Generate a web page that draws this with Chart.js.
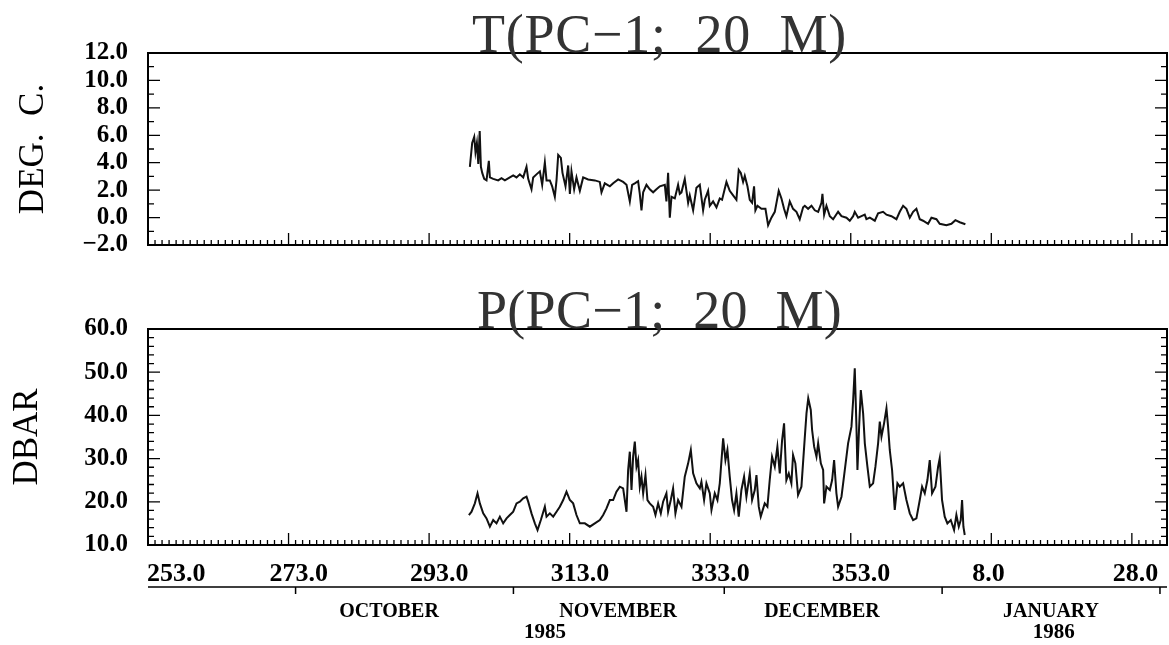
<!DOCTYPE html>
<html>
<head>
<meta charset="utf-8">
<script src="https://cdn.jsdelivr.net/npm/chart.js@4.4.1/dist/chart.umd.min.js"></script>
<style>
  html, body { margin: 0; padding: 0; background: #fff; }
  #wrap { position: relative; width: 1169px; height: 645px; }
  #tempChart { position: absolute; left: 0; top: 0; }
  #presChart { position: absolute; left: 0; top: 280px; }
</style>
</head>
<body>
<div id="wrap">
  <canvas id="tempChart" width="1169" height="280"></canvas>
  <canvas id="presChart" width="1169" height="365"></canvas>
</div>
<script>
// Day of year (1985), temperature at 20 m
const tDays = [
  298.8, 299.13, 299.42, 299.6, 299.8, 300.0, 300.2, 300.37, 300.56, 300.84,
  301.17, 301.5, 301.65, 302.12, 302.83, 303.3, 303.78, 304.49, 304.97, 305.44,
  305.91, 306.39, 306.86, 307.1, 307.57, 307.81, 308.28, 308.76, 309.09, 309.47,
  309.71, 310.18, 310.51, 310.89, 311.13, 311.37, 311.75, 311.98, 312.22, 312.41,
  312.79, 313.03, 313.26, 313.64, 313.97, 314.45, 314.92, 315.63, 316.58, 317.29,
  317.53, 318.0, 318.72, 319.19, 319.9, 320.61, 321.09, 321.56, 321.89, 322.27,
  322.74, 322.98, 323.22, 323.46, 323.93, 324.4, 324.88, 325.35, 325.83, 326.54,
  326.77, 327.01, 327.25, 327.49, 327.96, 328.43, 328.67, 328.91, 329.38, 329.62,
  329.86, 330.09, 330.57, 331.04, 331.52, 331.99, 332.23, 332.7, 332.94, 333.41,
  333.89, 334.36, 334.69, 335.31, 335.78, 336.26, 336.73, 337.06, 337.35, 337.68,
  337.92, 338.3, 338.63, 338.96, 339.24, 339.43, 339.72, 340.29, 340.86, 341.24,
  341.71, 342.19, 342.75, 343.13, 343.51, 343.84, 344.32, 344.79, 345.27, 345.74,
  346.22, 346.46, 346.93, 347.41, 347.88, 348.36, 348.83, 348.97, 349.21, 349.54,
  350.02, 350.49, 351.2, 351.68, 352.39, 352.86, 353.34, 353.57, 354.05, 354.52,
  354.99, 355.23, 355.71, 356.42, 356.89, 357.6, 358.08, 358.79, 359.5, 359.97,
  360.45, 360.92, 361.4, 361.87, 362.34, 362.82, 363.29, 364.0, 364.48, 365.19,
  365.66, 366.61, 367.32, 367.89, 368.51, 369.31
];
const tVals = [
  3.7, 5.44, 5.88, 4.78, 5.44, 3.91, 6.31, 3.7, 3.26, 2.82,
  2.71, 4.13, 2.93, 2.82, 2.71, 2.87, 2.71, 2.93, 3.08, 2.93,
  3.15, 2.93, 3.7, 2.82, 2.06, 2.93, 3.15, 3.37, 2.39, 4.02,
  2.71, 2.71, 2.28, 1.51, 2.71, 4.57, 4.35, 3.26, 2.71, 2.28,
  3.8, 1.73, 3.37, 2.06, 2.93, 1.95, 2.93, 2.78, 2.71, 2.6,
  1.84, 2.5, 2.28, 2.5, 2.78, 2.6, 2.39, 1.18, 2.39, 2.5,
  2.65, 1.73, 0.53, 1.84, 2.39, 2.06, 1.84, 2.06, 2.28, 2.39,
  1.18, 3.26, -0.01, 1.51, 1.4, 2.39, 1.73, 1.84, 2.82, 1.95,
  1.08, 1.62, 0.53, 2.17, 2.39, 0.53, 1.3, 1.95, 0.86, 1.18,
  0.75, 1.4, 1.3, 2.6, 1.95, 1.62, 1.3, 3.48, 3.26, 2.6,
  3.04, 2.28, 1.3, 1.08, 2.28, 0.53, 0.86, 0.64, 0.64, -0.56,
  -0.01, 0.42, 1.95, 1.4, 0.64, 0.1, 1.18, 0.64, 0.42, -0.12,
  0.75, 0.86, 0.64, 0.86, 0.53, 0.42, 1.08, 1.73, 0.21, 0.86,
  0.1, -0.12, 0.42, 0.1, -0.01, -0.23, 0.1, 0.42, -0.01, 0.1,
  0.21, -0.12, -0.01, -0.23, 0.31, 0.42, 0.21, 0.1, -0.12, 0.42,
  0.86, 0.64, -0.01, 0.42, 0.64, -0.12, -0.23, -0.45, -0.01, -0.12,
  -0.45, -0.56, -0.45, -0.19, -0.34, -0.49
];

// Day of year (1985), pressure at 20 m
const pDays = [
  298.66, 299.04, 299.51, 299.89, 300.22, 300.7, 301.17, 301.65, 302.12, 302.59,
  303.07, 303.54, 304.02, 304.49, 304.97, 305.44, 305.91, 306.39, 306.86, 307.1,
  307.57, 308.05, 308.43, 308.9, 309.47, 309.71, 310.18, 310.66, 311.13, 311.6,
  312.08, 312.55, 313.03, 313.5, 313.97, 314.45, 315.16, 315.87, 316.58, 317.29,
  317.77, 318.24, 318.72, 319.19, 319.66, 320.14, 320.61, 321.09, 321.32, 321.56,
  321.8, 322.03, 322.27, 322.51, 322.74, 322.98, 323.22, 323.46, 323.79, 324.07,
  324.4, 324.88, 325.21, 325.59, 325.97, 326.3, 326.77, 327.01, 327.39, 327.72,
  328.05, 328.43, 328.91, 329.38, 329.86, 330.24, 330.57, 331.04, 331.52, 331.75,
  332.13, 332.46, 332.94, 333.18, 333.65, 334.03, 334.36, 334.84, 335.17, 335.45,
  335.78, 336.11, 336.4, 336.73, 337.06, 337.44, 337.82, 338.15, 338.63, 338.96,
  339.34, 339.58, 339.91, 340.19, 340.76, 341.14, 341.47, 341.8, 342.19, 342.56,
  342.9, 343.23, 343.51, 343.84, 344.18, 344.55, 344.79, 345.12, 345.5, 345.98,
  346.45, 346.7, 346.95, 347.31, 347.5, 347.79, 348.12, 348.36, 348.74, 349.07,
  349.21, 349.54, 350.02, 350.35, 350.63, 350.96, 351.2, 351.68, 352.15, 352.62,
  353.1, 353.34, 353.57, 353.81, 353.95, 354.19, 354.43, 354.76, 355.0, 355.37,
  355.71, 356.18, 356.51, 356.89, 357.13, 357.37, 357.74, 358.08, 358.31, 358.55,
  358.88, 359.26, 359.64, 359.97, 360.45, 360.92, 361.4, 361.87, 362.34, 362.82,
  363.15, 363.53, 363.91, 364.24, 364.57, 365.05, 365.43, 365.66, 365.99, 366.37,
  366.75, 367.23, 367.7, 368.03, 368.37, 368.65, 368.84, 369.03, 369.22
];
const pVals = [
  16.94, 17.7, 19.64, 21.96, 19.64, 17.33, 16.17, 14.24, 15.78, 15.01,
  16.56, 15.01, 16.17, 16.94, 17.7, 19.64, 20.03, 20.8, 21.18, 20.03,
  17.33, 15.01, 13.47, 15.78, 18.87, 16.56, 17.33, 16.56, 17.7, 18.87,
  20.41, 22.34, 20.41, 19.64, 16.94, 15.01, 15.01, 14.24, 15.01, 15.78,
  16.94, 18.48, 20.41, 20.41, 22.34, 23.5, 23.11, 17.7, 27.36, 31.6,
  22.73, 30.45, 33.92, 28.13, 29.67, 23.5, 25.81, 21.96, 26.2, 20.41,
  19.64, 18.87, 16.94, 19.64, 17.33, 20.03, 21.96, 17.7, 20.41, 23.11,
  17.33, 20.41, 18.87, 25.81, 28.9, 32.0, 26.59, 24.27, 23.11, 24.66,
  20.41, 24.27, 21.96, 18.1, 21.96, 20.41, 24.27, 34.69, 29.67, 32.0,
  25.81, 20.41, 18.1, 21.96, 16.56, 22.73, 25.81, 21.18, 26.59, 20.41,
  22.73, 26.2, 18.87, 16.56, 19.64, 18.87, 25.04, 30.45, 28.13, 32.76,
  26.59, 34.3, 38.16, 25.04, 26.59, 24.27, 30.83, 28.9, 21.57, 23.5,
  34.69, 40.48, 43.95, 41.25, 36.62, 32.76, 30.45, 33.53, 28.9, 27.36,
  19.64, 23.5, 22.73, 25.04, 29.67, 21.96, 18.87, 21.18, 27.36, 33.53,
  37.39, 43.56, 50.89, 37.39, 27.36, 37.39, 45.88, 40.48, 33.53, 28.13,
  23.5, 24.27, 28.13, 33.53, 38.55, 35.07, 38.16, 41.63, 37.39, 32.0,
  27.36, 18.1, 24.27, 23.5, 24.27, 20.41, 17.33, 15.78, 16.17, 20.41,
  23.5, 21.96, 25.04, 29.67, 21.96, 23.5, 28.13, 30.06, 20.41, 16.56,
  15.01, 15.78, 13.47, 16.94, 14.24, 15.78, 20.41, 14.24, 12.31
];

// Bottom axis: labelled days, their text, and the calendar strip
const xTickDays = [253, 273, 293, 313, 333, 353, 373, 393];
const xTickLabels = ['253.0', '273.0', '293.0', '313.0', '333.0', '353.0', '8.0', '28.0'];
const monthStarts = [274, 305, 335, 366, 397];
const monthNames = ['OCTOBER', 'NOVEMBER', 'DECEMBER', 'JANUARY'];
const monthLabelDays = [287.3, 319.9, 348.9, 381.5];
const yearNames = ['1985', '1986'];
const yearLabelDays = [309.5, 381.9];

const SERIF = '"Liberation Serif", "Times New Roman", serif';

// frame, inward ticks, titles and the calendar axis
const framePlugin = {
  id: 'frame',
  afterDraw(chart, args, opts) {
    const { ctx, chartArea: a, scales: { x, y } } = chart;
    ctx.save();
    ctx.strokeStyle = '#000';
    ctx.fillStyle = '#000';

    ctx.lineWidth = 2;
    ctx.strokeRect(a.left, a.top, a.right - a.left, a.bottom - a.top);

    ctx.lineWidth = 1.3;
    ctx.beginPath();
    for (let d = 253; d <= 398; d++) {
      const px = x.getPixelForValue(d);
      const len = (d - 253) % 20 === 0 ? 12 : 5;
      ctx.moveTo(px, a.bottom);
      ctx.lineTo(px, a.bottom - len);
    }
    for (let v = y.min; v <= y.max + 1e-9; v += opts.yMinor) {
      const py = y.getPixelForValue(v);
      const r = v / opts.yMajor;
      const len = Math.abs(r - Math.round(r)) < 1e-6 ? 12 : 6;
      ctx.moveTo(a.left, py);
      ctx.lineTo(a.left + len, py);
      ctx.moveTo(a.right, py);
      ctx.lineTo(a.right - len, py);
    }
    ctx.stroke();

    // panel title sitting on the top edge
    ctx.font = '54px ' + SERIF;
    ctx.textAlign = 'left';
    ctx.textBaseline = 'alphabetic';
    const w0 = ctx.measureText(opts.title).width;
    const n = [...opts.title].length;
    ctx.letterSpacing = Math.max(0, (opts.titleWidth - w0) / n) + 'px';
    ctx.fillStyle = '#333';
    ctx.fillText(opts.title, opts.titleX, a.top - 1);
    ctx.letterSpacing = '0px';

    // axis name, rotated
    ctx.save();
    ctx.fillStyle = '#000';
    ctx.font = '35px ' + SERIF;
    ctx.translate(opts.yTitleX, (a.top + a.bottom) / 2);
    ctx.rotate(-Math.PI / 2);
    ctx.textAlign = 'center';
    ctx.fillText(opts.yTitle, 0, 0);
    ctx.restore();

    if (opts.calendar) {
      ctx.fillStyle = '#000';
      ctx.font = 'bold 26px ' + SERIF;
      ctx.textAlign = 'left';
      xTickDays.forEach((d, i) => {
        const px = Math.max(x.getPixelForValue(d) - 19, a.left - 1);
        ctx.fillText(xTickLabels[i], px, a.bottom + 36);
      });

      const ly = a.bottom + 42;
      ctx.lineWidth = 1.5;
      ctx.beginPath();
      ctx.moveTo(a.left, ly);
      ctx.lineTo(a.right, ly);
      monthStarts.forEach(d => {
        const px = x.getPixelForValue(d);
        ctx.moveTo(px, ly);
        ctx.lineTo(px, ly + 7);
      });
      ctx.stroke();

      ctx.textAlign = 'center';
      ctx.font = 'bold 20px ' + SERIF;
      monthNames.forEach((m, i) => {
        ctx.fillText(m, x.getPixelForValue(monthLabelDays[i]), a.bottom + 72);
      });
      ctx.font = 'bold 21px ' + SERIF;
      yearNames.forEach((yr, i) => {
        ctx.fillText(yr, x.getPixelForValue(yearLabelDays[i]), a.bottom + 93);
      });
    }
    ctx.restore();
  }
};

const makeChart = (id, days, vals, yMin, yMax, yStep, padTop, xHeight, frame) => {
  return new Chart(document.getElementById(id), {
    type: 'line',
    data: {
      datasets: [{
        data: days.map((d, i) => ({ x: d, y: vals[i] })),
        borderColor: '#111',
        borderWidth: 2,
        pointRadius: 0,
        tension: 0
      }]
    },
    options: {
      responsive: false,
      animation: false,
      layout: { padding: { top: padTop, left: 0, right: 2, bottom: 0 } },
      plugins: {
        legend: { display: false },
        tooltip: { enabled: false },
        frame: frame
      },
      scales: {
        x: {
          type: 'linear',
          min: 253,
          max: 398,
          grid: { display: false, drawTicks: false },
          border: { display: false },
          ticks: { display: false },
          afterFit: s => { s.height = xHeight; }
        },
        y: {
          min: yMin,
          max: yMax,
          grid: { display: false, drawTicks: false },
          border: { display: false },
          ticks: {
            stepSize: yStep,
            autoSkip: false,
            padding: 20,
            color: '#000',
            font: { family: SERIF, size: 25, weight: 'bold' },
            callback: v => v.toFixed(1).replace('-', '\u2212')
          },
          afterFit: s => { s.width = 148; }
        }
      }
    },
    plugins: [framePlugin]
  });
};

makeChart('tempChart', tDays, tVals, -2, 12, 2, 53, 13, {
  title: 'T(PC\u22121;  20  M)', titleX: 472, titleWidth: 375,
  yTitle: 'DEG.  C.', yTitleX: 43, yMinor: 1, yMajor: 2, calendar: false
});

makeChart('presChart', pDays, pVals, 10, 60, 10, 49, 100, {
  title: 'P(PC\u22121;  20  M)', titleX: 477, titleWidth: 365,
  yTitle: 'DBAR', yTitleX: 37, yMinor: 2, yMajor: 10, calendar: true
});
</script>
</body>
</html>
